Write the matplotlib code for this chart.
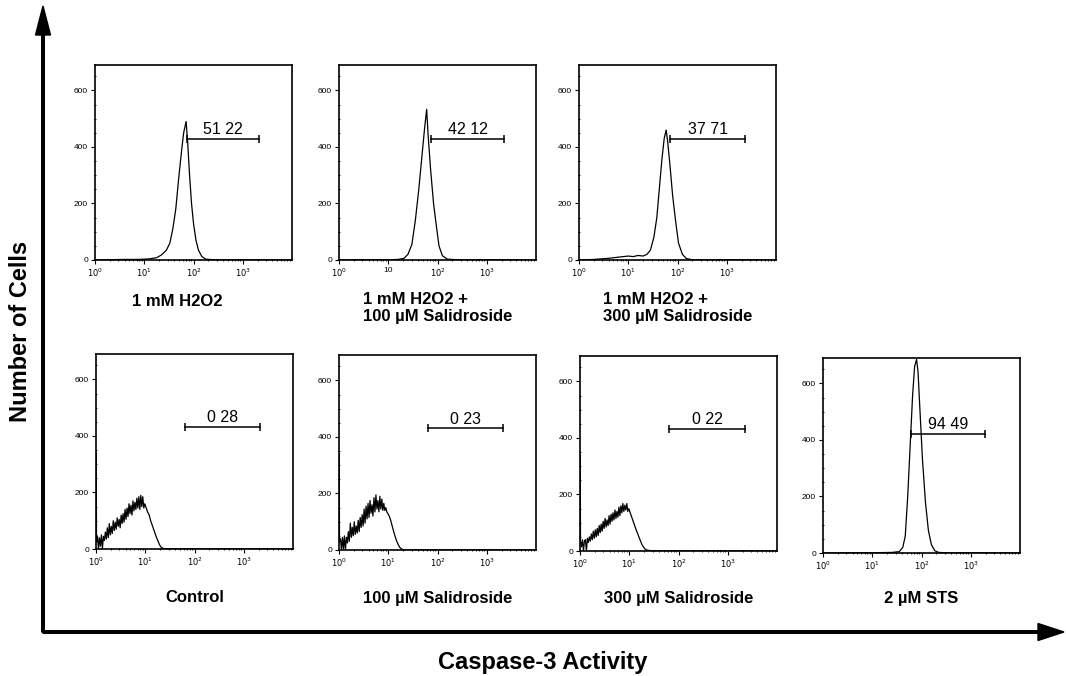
import numpy as np
import matplotlib
matplotlib.use('Agg')
import matplotlib.pyplot as plt
from matplotlib.ticker import FixedLocator, MultipleLocator, LogLocator, NullFormatter
from matplotlib.patches import FancyArrow

plt.rcParams['font.family'] = ['Liberation Sans', 'DejaVu Sans']

# ---------------- data (log10 channel, cell counts) ----------------
h2o2_log = [0.0, 0.3, 0.6, 0.9, 1.1, 1.25, 1.35, 1.45, 1.52, 1.58,
            1.64, 1.7, 1.76, 1.8, 1.85, 1.88, 1.92, 1.96, 2.0, 2.05,
            2.1, 2.17, 2.25, 2.4, 2.7, 3.0, 3.5, 4.0]
h2o2_cnt = [0, 1, 2, 2, 4, 8, 18, 35, 60, 110,
            180, 290, 390, 450, 490, 420, 300, 200, 130, 70,
            35, 12, 3, 1, 0, 1, 0, 0]

h2o2_s100_log = [0.0, 0.5, 1.0, 1.2, 1.32, 1.4, 1.48, 1.55, 1.62, 1.68,
                 1.74, 1.78, 1.81, 1.86, 1.92, 1.97, 2.03, 2.1, 2.2, 2.5,
                 3.0, 4.0]
h2o2_s100_cnt = [0, 1, 1, 2, 6, 20, 55, 140, 250, 360,
                 470, 533, 440, 320, 200, 130, 50, 15, 3, 0,
                 1, 0]

h2o2_s300_log = [0.0, 0.3, 0.6, 0.8, 1.0, 1.1, 1.2, 1.3, 1.38, 1.45,
                 1.52, 1.58, 1.63, 1.68, 1.73, 1.77, 1.8, 1.85, 1.9, 1.96,
                 2.02, 2.1, 2.18, 2.3, 2.6, 3.0, 4.0]
h2o2_s300_cnt = [0, 2, 6, 10, 14, 12, 16, 14, 20, 35,
                 80, 150, 250, 350, 430, 460, 420, 330, 230, 140,
                 60, 20, 5, 1, 0, 1, 0]

low_log = [0.005, 0.01, 0.03, 0.05, 0.07, 0.09, 0.11, 0.13, 0.15, 0.17,
           0.19, 0.21, 0.23, 0.25, 0.27, 0.29, 0.31, 0.33, 0.35, 0.37,
           0.39, 0.41, 0.43, 0.45, 0.47, 0.49, 0.51, 0.53, 0.55, 0.57,
           0.59, 0.61, 0.63, 0.65, 0.67, 0.69, 0.71, 0.73, 0.75, 0.77,
           0.79, 0.81, 0.83, 0.85, 0.87, 0.89, 0.91, 0.93, 0.95, 0.97,
           0.99, 1.02, 1.05, 1.08, 1.11, 1.14, 1.17, 1.20, 1.23, 1.26,
           1.29, 1.32, 1.36, 1.45, 1.7, 2.0, 2.3, 2.6, 3.0, 3.4,
           3.8, 4.0]
control_cnt = [340, 25, 45, 0, 40, 10, 50, 0, 45, 30,
               60, 35, 75, 40, 90, 50, 80, 55, 100, 65,
               95, 70, 110, 80, 105, 75, 120, 90, 125, 95,
               140, 105, 145, 115, 160, 125, 155, 120, 170, 135,
               165, 140, 180, 145, 185, 140, 190, 150, 185, 145,
               160, 145, 130, 120, 100, 85, 70, 55, 40, 28,
               15, 7, 2, 1, 0, 1, 0, 1, 0, 1,
               0, 0]
s100_cnt = [340, 30, 40, 0, 45, 5, 50, 0, 45, 25,
            65, 30, 95, 45, 80, 50, 100, 55, 85, 60,
            105, 65, 115, 80, 125, 85, 145, 95, 155, 110,
            165, 115, 175, 130, 160, 120, 185, 135, 195, 145,
            175, 135, 190, 145, 180, 140, 165, 140, 150, 135,
            130, 120, 105, 85, 65, 48, 32, 20, 10, 5,
            2, 1, 0, 0, 1, 0, 1, 0, 1, 0,
            0, 0]
s300_cnt = [340, 35, 15, 40, 0, 35, 40, 0, 45, 30,
            50, 35, 60, 40, 70, 45, 75, 50, 80, 55,
            90, 65, 95, 70, 105, 80, 115, 85, 110, 90,
            125, 95, 130, 105, 135, 110, 145, 115, 140, 120,
            155, 125, 160, 135, 168, 140, 162, 145, 168, 140,
            150, 135, 120, 105, 90, 75, 62, 48, 35, 22,
            14, 7, 3, 1, 0, 1, 0, 1, 0, 1,
            0, 0]

sts_log = [0.0, 0.5, 1.0, 1.4, 1.55, 1.62, 1.67, 1.72, 1.77, 1.82,
           1.86, 1.9, 1.93, 1.97, 2.02, 2.08, 2.14, 2.2, 2.27, 2.35,
           2.6, 3.0, 4.0]
sts_cnt = [0, 1, 1, 2, 5, 20, 60, 200, 380, 560,
           660, 685, 640, 500, 330, 180, 80, 30, 8, 2,
           0, 1, 0]

gate_lo = [74, 74, 71, 64, 65, 65, 61]
gate_hi = [2140, 2240, 2340, 2140, 2140, 2240, 1950]
gate_y = [428, 428, 428, 431, 431, 431, 421]
gate_text = ['51 22', '42 12', '37 71', '0 28', '0 23', '0 22', '94 49']

panel_labels = ['1 mM H2O2',
                '1 mM H2O2 +\n100 µM Salidroside',
                '1 mM H2O2 +\n300 µM Salidroside',
                'Control', '100 µM Salidroside', '300 µM Salidroside', '2 µM STS']

y_ticks = [0, 200, 400, 600]
x_ticks = [1, 10, 100, 1000]
x_labels_std = [r'$10^0$', r'$10^1$', r'$10^2$', r'$10^3$']
x_labels_p2 = [r'$10^0$', '10', r'$10^2$', r'$10^3$']

hist_logs = [h2o2_log, h2o2_s100_log, h2o2_s300_log, low_log, low_log, low_log, sts_log]
hist_cnts = [h2o2_cnt, h2o2_s100_cnt, h2o2_s300_cnt, control_cnt, s100_cnt, s300_cnt, sts_cnt]

# ---------------- layout (pixels) ----------------
W, H = 1066, 676
fig = plt.figure(figsize=(W / 100, H / 100), dpi=100)

pw, ph = 197, 195
rects_px = [(95, 65), (339, 65), (579, 65), (96, 354), (339, 355), (580, 356), (823, 358)]


def to_fig(l, t, w, h):
    return [l / W, 1 - (t + h) / H, w / W, h / H]


for i, (l, t) in enumerate(rects_px):
    ax = fig.add_axes(to_fig(l, t, pw, ph))
    ax.set_xscale('log')
    ax.set_xlim(1, 1e4)
    ax.set_ylim(0, 690)
    x = 10 ** np.array(hist_logs[i])
    ax.plot(x, hist_cnts[i], color='black', lw=0.9)
    lo, hi, gy = gate_lo[i], gate_hi[i], gate_y[i]
    ax.plot([lo, hi], [gy, gy], color='black', lw=1.1)
    ax.plot([lo, hi], [gy, gy], ls='none', marker='|', ms=6, mew=1.1, color='black')
    ax.text(np.sqrt(lo * hi), gy + 6, gate_text[i], ha='center', va='bottom', fontsize=11.5)

    ax.xaxis.set_major_locator(FixedLocator(x_ticks))
    ax.set_xticklabels(x_labels_p2 if i == 1 else x_labels_std)
    ax.xaxis.set_minor_locator(LogLocator(base=10, subs=np.arange(2, 10)))
    ax.xaxis.set_minor_formatter(NullFormatter())
    ax.yaxis.set_major_locator(FixedLocator(y_ticks))
    ax.yaxis.set_minor_locator(MultipleLocator(50))
    ax.tick_params(axis='both', which='major', labelsize=6, length=3, width=0.8, pad=2,
                   direction='out')
    ax.tick_params(axis='both', which='minor', length=2, width=0.6, direction='inout')
    for s in ax.spines.values():
        s.set_linewidth(1.2)

    cx = l + pw / 2
    if i == 0:
        fig.text(177 / W, 1 - 301 / H, panel_labels[i], ha='center', va='center',
                 fontsize=12, fontweight='bold')
    elif i < 3:
        fig.text(cx / W, 1 - 308 / H, panel_labels[i], ha='center', va='center',
                 multialignment='left', linespacing=1.15, fontsize=12, fontweight='bold')
    else:
        fig.text(cx / W, 1 - 598 / H, panel_labels[i], ha='center', va='center',
                 fontsize=12, fontweight='bold')

# ---------------- outer arrows ----------------
ov = fig.add_axes([0, 0, 1, 1], zorder=-1)
ov.set_xlim(0, W)
ov.set_ylim(H, 0)
ov.axis('off')
ov.add_patch(FancyArrow(43, 632, 0, -626, width=2.6, head_width=15, head_length=29,
                        length_includes_head=True, color='black'))
ov.add_patch(FancyArrow(43, 632, 1021, 0, width=2.6, head_width=17, head_length=26,
                        length_includes_head=True, color='black'))

fig.text(21 / W, 1 - 331 / H, 'Number of Cells', rotation=90, ha='center', va='center',
         fontsize=17, fontweight='bold')
fig.text(543 / W, 1 - 663 / H, 'Caspase-3 Activity', ha='center', va='center',
         fontsize=17, fontweight='bold')

fig.savefig('out.png', dpi=100)
